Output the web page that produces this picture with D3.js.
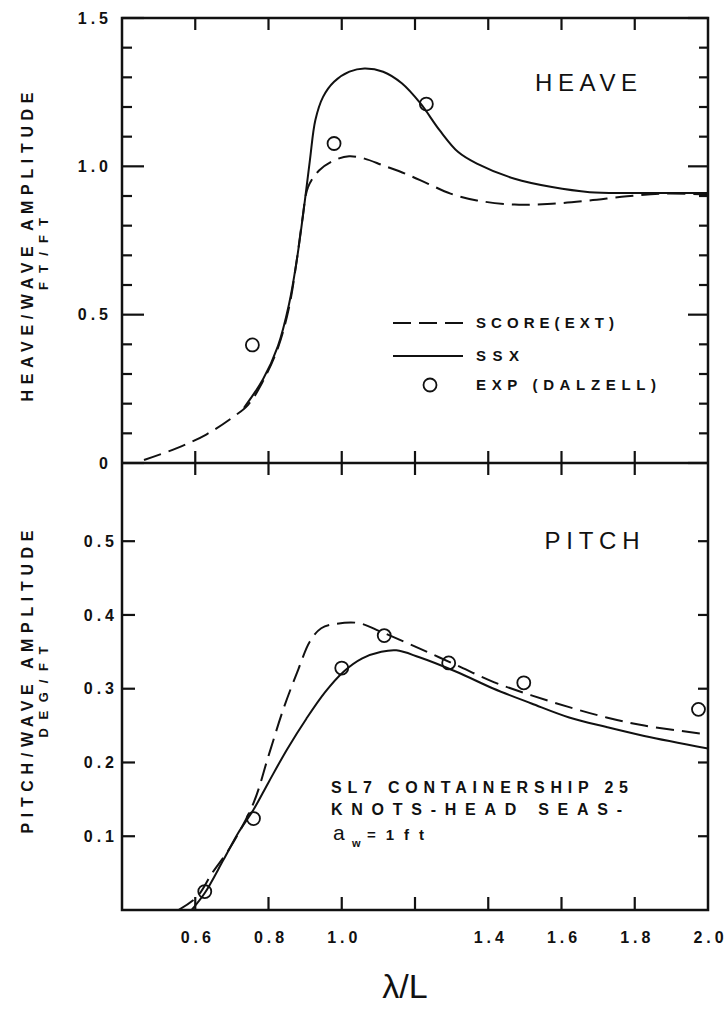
<!DOCTYPE html>
<html lang="en">
<head>
<meta charset="UTF-8">
<title>SL7 heave and pitch</title>
<script src="https://d3js.org/d3.v7.min.js"></script>
<style>
  html, body { margin: 0; padding: 0; background: #fff; }
  svg text { font-family: "Liberation Sans", Arial, sans-serif; fill: #111; }
</style>
</head>
<body>
<div id="chart"></div>
<script>
// wavelength / ship length
const xTicks = [0.6, 0.8, 1.0, 1.2, 1.4, 1.6, 1.8];
const xLabels = [0.6, 0.8, 1.0, 1.4, 1.6, 1.8, 2.0];
const heaveMajor = [0, 0.5, 1.0, 1.5];
const heaveMinor = [0.1, 0.2, 0.3, 0.4, 0.6, 0.7, 0.8, 0.9, 1.1, 1.2, 1.3, 1.4];
const pitchTicks = [0.1, 0.2, 0.3, 0.4, 0.5];

// heave/wave amplitude, ft/ft
const heaveScore = [[0.46, 0.01], [0.55, 0.05], [0.63, 0.096], [0.70, 0.152], [0.745, 0.197],
  [0.785, 0.276], [0.826, 0.389], [0.856, 0.524], [0.877, 0.682], [0.892, 0.817], [0.908, 0.93],
  [0.938, 0.986], [0.979, 1.02], [1.02, 1.034], [1.062, 1.026], [1.113, 1.003], [1.174, 0.975],
  [1.236, 0.941], [1.297, 0.908], [1.369, 0.885], [1.472, 0.871], [1.574, 0.874], [1.677, 0.885],
  [1.779, 0.899], [1.882, 0.908], [2.0, 0.905]];
const heaveSsx = [[0.733, 0.186], [0.785, 0.282], [0.826, 0.395], [0.856, 0.535], [0.877, 0.682],
  [0.897, 0.862], [0.913, 1.02], [0.928, 1.156], [0.949, 1.234], [0.979, 1.285], [1.021, 1.319],
  [1.062, 1.33], [1.113, 1.319], [1.164, 1.28], [1.215, 1.212], [1.267, 1.122], [1.318, 1.048],
  [1.369, 1.009], [1.472, 0.958], [1.574, 0.93], [1.677, 0.913], [1.779, 0.91], [1.882, 0.91],
  [2.0, 0.91]];
const heaveExp = [[0.756, 0.398], [0.979, 1.077], [1.231, 1.21]];

// pitch/wave amplitude, deg/ft
const pitchScore = [[0.554, 0], [0.605, 0.018], [0.646, 0.05], [0.697, 0.086], [0.759, 0.145],
  [0.80, 0.209], [0.841, 0.273], [0.882, 0.327], [0.913, 0.364], [0.944, 0.382], [0.985, 0.388],
  [1.046, 0.389], [1.108, 0.377], [1.21, 0.355], [1.313, 0.332], [1.415, 0.309], [1.518, 0.291],
  [1.621, 0.275], [1.723, 0.261], [1.826, 0.25], [2.0, 0.238]];
const pitchSsx = [[0.59, 0], [0.626, 0.023], [0.677, 0.068], [0.718, 0.105], [0.759, 0.136],
  [0.80, 0.173], [0.851, 0.218], [0.903, 0.259], [0.954, 0.295], [1.005, 0.323], [1.056, 0.341],
  [1.108, 0.35], [1.149, 0.352], [1.21, 0.343], [1.313, 0.323], [1.415, 0.30], [1.518, 0.28],
  [1.621, 0.261], [1.723, 0.248], [1.826, 0.236], [2.0, 0.219]];
const pitchExp = [[0.626, 0.025], [0.759, 0.124], [1.0, 0.328], [1.116, 0.372], [1.292, 0.335],
  [1.497, 0.308], [1.974, 0.272]];

const width = 727, height = 1011;
const pLeft = 122, pRight = 708, pTop = 18, pMid = 463, pBottom = 910;

const x = d3.scaleLinear().domain([0.4, 2.0]).range([pLeft, pRight]);
const yHeave = d3.scaleLinear().domain([0, 1.5]).range([pMid, pTop]);
const yPitch = d3.scaleLinear().domain([0, 0.606]).range([pBottom, pMid]);

const svg = d3.select('#chart').append('svg')
  .attr('width', width)
  .attr('height', height);

svg.append('clipPath').attr('id', 'clipTop')
  .append('rect').attr('x', pLeft).attr('y', pTop).attr('width', pRight - pLeft).attr('height', pMid - pTop);
svg.append('clipPath').attr('id', 'clipBot')
  .append('rect').attr('x', pLeft).attr('y', pMid).attr('width', pRight - pLeft).attr('height', pBottom - pMid);

// frames
svg.append('rect').attr('x', pLeft).attr('y', pTop).attr('width', pRight - pLeft).attr('height', pBottom - pTop)
  .attr('fill', 'none').attr('stroke', '#111').attr('stroke-width', 2.5);
svg.append('line').attr('x1', pLeft).attr('x2', pRight).attr('y1', pMid).attr('y2', pMid)
  .attr('stroke', '#111').attr('stroke-width', 2.5);

// inward tick marks; side = which frame edge they hang from
function tickMarks(values, scale, side, pos, len) {
  const vertical = side === 'left' || side === 'right';
  const dir = (side === 'left' || side === 'top') ? 1 : -1;
  svg.append('g').selectAll('line').data(values).join('line')
    .attr('x1', d => vertical ? pos : scale(d))
    .attr('x2', d => vertical ? pos + dir * len : scale(d))
    .attr('y1', d => vertical ? scale(d) : pos)
    .attr('y2', d => vertical ? scale(d) : pos + dir * len)
    .attr('stroke', '#111')
    .attr('stroke-width', 2.2);
}

// tick labels via d3 axes (no tick lines, frame already drawn)
function tickLabels(axis, tx, ty) {
  const g = svg.append('g')
    .attr('transform', `translate(${tx},${ty})`)
    .call(axis.tickSize(0));
  g.select('.domain').remove();
  g.selectAll('.tick line').remove();
  g.selectAll('.tick text')
    .attr('font-size', 16)
    .attr('font-weight', 'bold')
    .attr('letter-spacing', '4px')
    .style('fill', '#111');
  return g;
}
const fmt = d => d === 0 ? '0' : d3.format('.1f')(d);

// heave panel
tickMarks(heaveMajor, yHeave, 'left', pLeft, 22);
tickMarks(heaveMinor, yHeave, 'left', pLeft, 10);
tickMarks(heaveMajor, yHeave, 'right', pRight, 20);
tickMarks(heaveMinor, yHeave, 'right', pRight, 9);
tickMarks(xTicks, x, 'top', pTop, 12);
tickMarks(xTicks, x, 'bottom', pMid, 12);
tickLabels(d3.axisLeft(yHeave).tickValues(heaveMajor).tickPadding(10).tickFormat(fmt), pLeft, 0);

// pitch panel
tickMarks(xTicks, x, 'top', pMid, 12);
tickMarks(xTicks, x, 'bottom', pBottom, 13);
tickMarks(pitchTicks, yPitch, 'left', pLeft, 13);
tickMarks(pitchTicks, yPitch, 'right', pRight, 10);
tickLabels(d3.axisBottom(x).tickValues(xLabels).tickPadding(22).tickFormat(d3.format('.1f')), 0, pBottom)
  .selectAll('text').attr('dx', '2px');
tickLabels(d3.axisLeft(yPitch).tickValues(pitchTicks).tickPadding(4).tickFormat(d3.format('.1f')), pLeft, 0);

// curves
function curve(data, y, dashed, clip) {
  const line = d3.line().x(d => x(d[0])).y(d => y(d[1])).curve(d3.curveCatmullRom.alpha(0.5));
  svg.append('path').datum(data)
    .attr('d', line)
    .attr('clip-path', `url(#${clip})`)
    .attr('fill', 'none')
    .attr('stroke', '#111')
    .attr('stroke-width', 2)
    .attr('stroke-dasharray', dashed ? '18,8' : null);
}
function points(data, y) {
  svg.append('g').selectAll('circle').data(data).join('circle')
    .attr('cx', d => x(d[0]))
    .attr('cy', d => y(d[1]))
    .attr('r', 6.5)
    .attr('fill', 'none')
    .attr('stroke', '#111')
    .attr('stroke-width', 1.8);
}
curve(heaveScore, yHeave, true, 'clipTop');
curve(heaveSsx, yHeave, false, 'clipTop');
points(heaveExp, yHeave);
curve(pitchScore, yPitch, true, 'clipBot');
curve(pitchSsx, yPitch, false, 'clipBot');
points(pitchExp, yPitch);

// texts
function label(str, tx, ty, size, len, weight, anchor, rot) {
  return svg.append('text')
    .attr('transform', `translate(${tx},${ty})` + (rot ? ` rotate(${rot})` : ''))
    .attr('font-size', size)
    .attr('font-weight', weight)
    .attr('text-anchor', anchor)
    .attr('textLength', len)
    .attr('lengthAdjust', 'spacing')
    .text(str);
}
label('HEAVE', 586, 91, 24, 102, 'normal', 'middle');
label('PITCH', 592, 549, 24, 95, 'normal', 'middle');

label('HEAVE/WAVE AMPLITUDE', 33, 247, 16, 309, 'bold', 'middle', -90);
label('FT/FT', 48, 254, 13, 72, 'bold', 'middle', -90);
label('PITCH/WAVE AMPLITUDE', 33, 682, 16, 303, 'bold', 'middle', -90);
label('DEG/FT', 48, 692, 13, 91, 'bold', 'middle', -90);

// legend
const legendRows = [
  { name: 'SCORE(EXT)', len: 138, y: 323, kind: 'dash' },
  { name: 'SSX', len: 43, y: 356, kind: 'solid' },
  { name: 'EXP (DALZELL)', len: 180, y: 385, kind: 'circle' }
];
legendRows.forEach(r => {
  if (r.kind === 'circle') {
    svg.append('circle').attr('cx', 430).attr('cy', r.y).attr('r', 6.5)
      .attr('fill', 'none').attr('stroke', '#111').attr('stroke-width', 1.8);
  } else {
    svg.append('line').attr('x1', 393).attr('x2', 463).attr('y1', r.y).attr('y2', r.y)
      .attr('stroke', '#111').attr('stroke-width', 2)
      .attr('stroke-dasharray', r.kind === 'dash' ? '18,8' : null);
  }
  label(r.name, 476, r.y + 5, 15, r.len, 'bold', 'start');
});

// case note
label('SL7 CONTAINERSHIP 25', 331, 793, 16, 297, 'bold', 'start');
label('KNOTS-HEAD SEAS-', 331, 815, 16, 291, 'bold', 'start');
svg.append('text').attr('x', 333).attr('y', 840).attr('font-size', 21).text('a');
svg.append('text').attr('x', 352).attr('y', 847).attr('font-size', 11).attr('font-weight', 'bold').text('w');
label('=1ft', 367, 840, 15, 57, 'bold', 'start');

// x title
svg.append('text').attr('x', 405).attr('y', 998).attr('font-size', 34)
  .attr('font-weight', 300)
  .attr('text-anchor', 'middle').text('λ/L');
</script>
</body>
</html>
